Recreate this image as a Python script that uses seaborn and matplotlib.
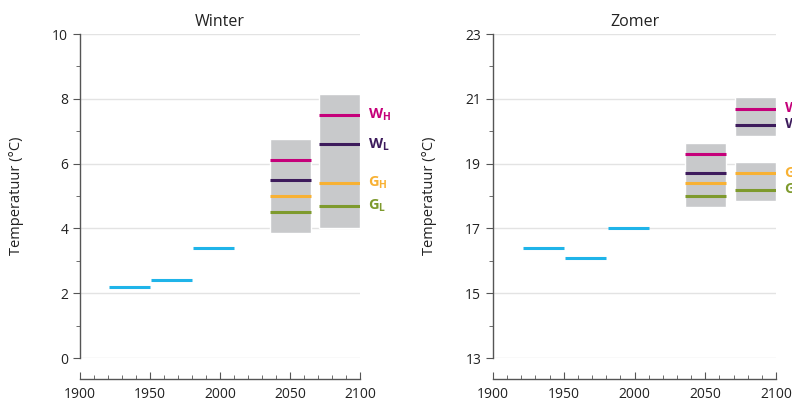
import numpy as np
import pandas as pd
import seaborn as sns
import matplotlib.pyplot as plt
from matplotlib.ticker import MultipleLocator

# Waargenomen gemiddelden per 30-jaar periode
obs_start = [1921, 1951, 1981]
obs_end = [1950, 1980, 2010]
winter_obs = [2.2, 2.4, 3.4]
zomer_obs = [16.4, 16.1, 17.0]

# Scenario's: WH, WL, GH, GL
scen_names = ['W$_\\mathregular{H}$', 'W$_\\mathregular{L}$', 'G$_\\mathregular{H}$', 'G$_\\mathregular{L}$']
scen_colors = ['#c5007a', '#3d1b5c', '#f8b133', '#7e9a2d']
per_start = [2036, 2071]
per_end = [2065, 2100]
winter_2050 = [6.1, 5.5, 5.0, 4.5]
winter_2085 = [7.5, 6.6, 5.4, 4.7]
zomer_2050 = [19.3, 18.7, 18.4, 18.0]
zomer_2085 = [20.7, 20.2, 18.7, 18.2]

# Onzekerheidsbanden (onder, boven)
winter_band_2050 = [(3.85, 6.75)]
winter_band_2085 = [(4.0, 8.15)]
zomer_band_2050 = [(17.65, 19.65)]
zomer_band_2085 = [(19.85, 21.05), (17.85, 19.05)]

winter_yticks = [0, 2, 4, 6, 8, 10]
zomer_yticks = [13, 15, 17, 19, 21, 23]

blue = '#1fb4e9'
box_grey = '#c8c9cb'

sns.set_style('white')
plt.rcParams['font.family'] = ['Open Sans', 'DejaVu Sans']

fig = plt.figure(figsize=(7.92, 4.05), dpi=100)
ax1 = fig.add_axes([80 / 792, 1 - 358 / 405, 280 / 792, 324 / 405])
ax2 = fig.add_axes([493 / 792, 1 - 358 / 405, 283 / 792, 324 / 405])


def draw(ax, title, obs, s2050, s2085, b2050, b2085, yticks, labels_y):
    df = pd.DataFrame({'start': obs_start, 'end': obs_end, 'temp': obs})
    ax.hlines(df['temp'], df['start'], df['end'], color=blue, lw=2.2, zorder=3)
    for lo, hi in b2050:
        ax.bar(per_start[0], hi - lo, bottom=lo, width=per_end[0] - per_start[0],
               align='edge', color=box_grey, zorder=2)
    for lo, hi in b2085:
        ax.bar(per_start[1], hi - lo, bottom=lo, width=per_end[1] - per_start[1],
               align='edge', color=box_grey, zorder=2)
    for vals, i in ((s2050, 0), (s2085, 1)):
        ax.hlines(vals, per_start[i], per_end[i], colors=scen_colors, lw=2.2, zorder=3)
    for name, col, y in zip(scen_names, scen_colors, labels_y):
        ax.text(2106, y, name, color=col, fontsize=10.5, fontweight='bold',
                va='center', ha='left', clip_on=False)

    ax.set_xlim(1900, 2100)
    ax.set_ylim(yticks[0], yticks[-1])
    ax.xaxis.set_major_locator(MultipleLocator(50))
    ax.xaxis.set_minor_locator(MultipleLocator(10))
    ax.set_yticks(yticks)
    ax.set_yticks([t + 1 for t in yticks[:-1]], minor=True)
    ax.grid(axis='y', color='#e3e3e3', lw=1, zorder=0)
    ax.set_axisbelow(True)
    sns.despine(ax=ax)
    ax.spines['bottom'].set_position(('outward', 15))
    for sp in ('left', 'bottom'):
        ax.spines[sp].set_color('#555555')
        ax.spines[sp].set_linewidth(1)
    ax.tick_params(axis='both', which='major', direction='out', length=5,
                   color='#555555', labelsize=10, labelcolor='#222222', left=True, bottom=True)
    ax.tick_params(axis='both', which='minor', direction='out', length=3,
                   color='#555555', left=True, bottom=True)
    ax.tick_params(axis='x', which='both', direction='in', pad=6)
    ax.set_ylabel('Temperatuur (°C)', fontsize=10.5, color='#222222', labelpad=20)
    ax.set_title(title, fontsize=11.5, color='#222222', pad=6)


draw(ax1, 'Winter', winter_obs, winter_2050, winter_2085,
     winter_band_2050, winter_band_2085, winter_yticks, [7.5, 6.6, 5.4, 4.7])
draw(ax2, 'Zomer', zomer_obs, zomer_2050, zomer_2085,
     zomer_band_2050, zomer_band_2085, zomer_yticks, [20.7, 20.2, 18.7, 18.2])

fig.savefig('out.png', dpi=100)
